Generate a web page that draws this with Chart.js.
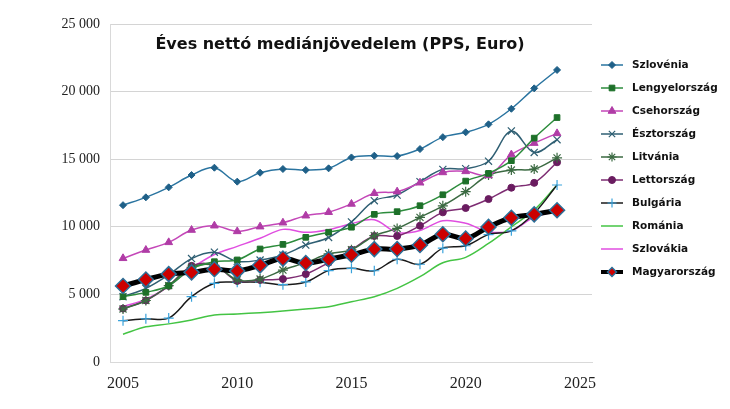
<!DOCTYPE html>
<html>
<head>
<meta charset="utf-8">
<script src="https://cdn.jsdelivr.net/npm/chart.js@4/dist/chart.umd.min.js"></script>
<style>
  html, body { margin: 0; padding: 0; background: #fff; }
  #wrap { width: 730px; height: 409px; }
</style>
</head>
<body>
<div id="wrap"><canvas id="chart" width="730" height="409"></canvas></div>
<script>
// Évek és sorozatok (PPS, Euro)
const years = [2005, 2006, 2007, 2008, 2009, 2010, 2011, 2012, 2013, 2014, 2015, 2016, 2017, 2018, 2019, 2020, 2021, 2022, 2023, 2024];
const xTicks = [2005, 2010, 2015, 2020, 2025];

const szlovenia = [11600, 12180, 12920, 13830, 14370, 13340, 14000, 14275, 14200, 14325, 15130, 15260, 15230, 15750, 16630, 16990, 17580, 18730, 20240, 21600];
const lengyel = [4830, 5150, 5640, 6900, 7420, 7550, 8360, 8700, 9220, 9600, 9970, 10920, 11120, 11560, 12370, 13380, 13950, 14890, 16560, 18080];
const cseh = [7670, 8280, 8850, 9760, 10080, 9660, 10010, 10300, 10820, 11080, 11690, 12480, 12600, 13260, 14020, 14100, 13800, 15340, 16190, 16910];
const eszt = [4830, 5450, 6450, 7650, 8120, 7440, 7540, 7910, 8650, 9210, 10360, 11930, 12350, 13340, 14250, 14300, 14850, 17090, 15500, 16440];
const litvania = [3920, 4550, 5650, 7000, 7150, 6070, 6140, 6800, 7350, 8000, 8300, 9340, 9880, 10700, 11550, 12600, 13830, 14200, 14275, 15100];
const lettorszag = [3950, 4550, 5630, 7110, 7170, 6000, 6070, 6140, 6500, 7350, 8300, 9320, 9320, 10080, 11070, 11390, 12050, 12890, 13250, 14770];
const bulgaria = [3060, 3200, 3250, 4830, 5820, 5900, 5900, 5720, 5920, 6760, 6930, 6750, 7600, 7230, 8420, 8600, 9420, 9700, 11000, 13090];
const romania = [2050, 2600, 2820, 3110, 3480, 3550, 3650, 3770, 3920, 4090, 4460, 4830, 5450, 6310, 7340, 7740, 8770, 10000, 11240, 13090];
const szlovakia = [4090, 4650, 5620, 6930, 7950, 8550, 9150, 9810, 9600, 9790, 10230, 10520, 9580, 9730, 10450, 10260, 9640, 9700, 10720, 11150];
const magyar = [5620, 6100, 6500, 6630, 6860, 6740, 7150, 7650, 7320, 7610, 7930, 8350, 8360, 8650, 9450, 9130, 9990, 10670, 10920, 11220];

const toXY = vals => vals.map((v, i) => ({ x: years[i], y: v }));

// sorozat stílusa
function series(label, vals, color, pointStyle, radius, extra) {
    return Object.assign({
        label: label,
        data: toXY(vals),
        borderColor: color,
        backgroundColor: color,
        pointBackgroundColor: color,
        pointBorderColor: color,
        borderWidth: 1.5,
        pointStyle: pointStyle,
        pointRadius: radius,
        pointBorderWidth: 1,
        tension: 0.35,
        order: 1
    }, extra || {});
}

const datasets = [
    series('Szlovénia', szlovenia, '#2a74a0', 'rectRot', 3.5, { pointBackgroundColor: '#1f6088', pointBorderColor: '#1f6088' }),
    series('Lengyelország', lengyel, '#2c8c3c', 'rect', 4, { pointBackgroundColor: '#1d7029', pointBorderColor: '#1d7029' }),
    series('Csehország', cseh, '#c447b8', 'triangle', 4.5, { pointBackgroundColor: '#b03ca6', pointBorderColor: '#b03ca6' }),
    series('Észtország', eszt, '#2f5f73', 'crossRot', 5, { pointBorderWidth: 1.2 }),
    series('Litvánia', litvania, '#3b6a42', 'star', 5, { pointBorderWidth: 1.2 }),
    series('Lettország', lettorszag, '#7d2c72', 'circle', 3.5, { pointBackgroundColor: '#6a1c60', pointBorderColor: '#6a1c60' }),
    series('Bulgária', bulgaria, '#1a1a1a', 'cross', 5, { pointBorderColor: '#3aa3dc', pointBackgroundColor: '#3aa3dc', pointBorderWidth: 1.2 }),
    series('Románia', romania, '#44c444', false, 0, { pointRadius: 0 }),
    series('Szlovákia', szlovakia, '#e04ee0', false, 0, { pointRadius: 0 }),
    series('Magyarország', magyar, '#000000', 'rectRot', 7.5, {
        borderWidth: 5, pointBackgroundColor: '#cc0000', pointBorderColor: '#2b6f98', pointBorderWidth: 1.5, order: 0
    })
];

// cím a rajzterületen belül
const titlePlugin = {
    id: 'innerTitle',
    afterDraw(chart) {
        const { ctx, chartArea } = chart;
        ctx.save();
        ctx.font = 'bold 16px "DejaVu Sans"';
        ctx.fillStyle = '#111';
        ctx.textAlign = 'center';
        ctx.textBaseline = 'middle';
        ctx.fillText('Éves nettó mediánjövedelem (PPS, Euro)', chartArea.left + 230, chartArea.top + 21);
        ctx.restore();
    }
};

// jelmagyarázat: vonal + jelölő, mint az eredetiben
const legendPlugin = {
    id: 'sideLegend',
    afterDraw(chart) {
        const { ctx, chartArea } = chart;
        const x0 = chartArea.right + 9;
        let y = chartArea.top + 41;
        ctx.save();
        chart.data.datasets.forEach(ds => {
            ctx.strokeStyle = ds.borderColor;
            ctx.lineWidth = Math.min(ds.borderWidth, 4);
            ctx.beginPath();
            ctx.moveTo(x0, y);
            ctx.lineTo(x0 + 22, y);
            ctx.stroke();
            if (ds.pointStyle) {
                ctx.fillStyle = ds.pointBackgroundColor;
                ctx.strokeStyle = ds.pointBorderColor;
                ctx.lineWidth = ds.pointBorderWidth;
                Chart.helpers.drawPoint(ctx, {
                    pointStyle: ds.pointStyle,
                    radius: Math.min(ds.pointRadius, 4.5),
                    rotation: 0,
                    borderWidth: ds.pointBorderWidth
                }, x0 + 11, y);
            }
            ctx.fillStyle = '#111';
            ctx.font = 'bold 10.5px "DejaVu Sans"';
            ctx.textAlign = 'left';
            ctx.textBaseline = 'middle';
            ctx.fillText(ds.label, x0 + 31, y);
            y += 23;
        });
        ctx.restore();
    }
};

new Chart(document.getElementById('chart'), {
    type: 'line',
    data: { datasets: datasets },
    options: {
        responsive: false,
        animation: false,
        layout: { padding: { left: 0, right: 138, top: 24, bottom: 0 } },
        plugins: { legend: { display: false }, tooltip: { enabled: false } },
        scales: {
            x: {
                type: 'linear',
                min: 2004.43,
                max: 2025.53,
                afterBuildTicks: s => { s.ticks = xTicks.map(v => ({ value: v })); },
                afterFit: s => { s.height = 47; },
                grid: { display: false },
                border: { color: '#d9d9d9' },
                ticks: {
                    color: '#222',
                    padding: 4,
                    font: { family: '"Liberation Serif"', size: 16 },
                    callback: v => String(v)
                }
            },
            y: {
                min: 0,
                max: 25000,
                afterFit: s => { s.width = 110; },
                ticks: {
                    stepSize: 5000,
                    color: '#222',
                    padding: 10,
                    font: { family: '"Liberation Serif"', size: 14 },
                    callback: v => String(v).replace(/\B(?=(\d{3})+(?!\d))/g, ' ')
                },
                grid: {
                    drawTicks: false,
                    color: c => c.tick.value === 0 ? 'rgba(0,0,0,0)' : '#d4d4d4',
                    lineWidth: 1
                },
                border: { color: '#d9d9d9' }
            }
        }
    },
    plugins: [titlePlugin, legendPlugin]
});
</script>
</body>
</html>
